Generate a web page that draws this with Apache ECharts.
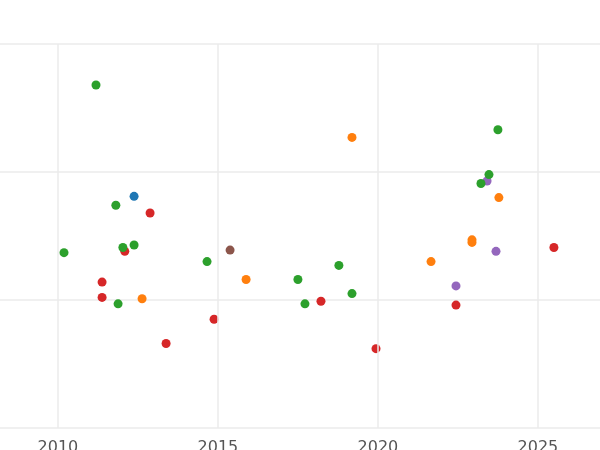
<!DOCTYPE html><html><head><meta charset="utf-8"><script src="https://cdn.jsdelivr.net/npm/echarts@6/dist/echarts.min.js"></script></head><body style="margin:0"><div id="c" style="width:600px;height:450px"></div><script>
const xTicks=[2010,2015,2020,2025];
const green=[[2011.19,1.68],[2010.19,0.37],[2011.81,0.74],[2012.03,0.41],[2012.38,0.43],[2011.88,-0.03],[2014.66,0.30],[2017.5,0.16],[2017.72,-0.03],[2018.78,0.27],[2019.19,0.05],[2023.22,0.91],[2023.47,0.98],[2023.75,1.33]];
const orange=[[2019.19,1.27],[2012.63,0.01],[2015.88,0.16],[2021.66,0.30],[2022.94,0.47],[2022.94,0.45],[2023.78,0.80]];
const red=[[2012.88,0.68],[2012.09,0.38],[2011.38,0.14],[2011.38,0.02],[2013.38,-0.34],[2014.88,-0.15],[2018.22,-0.01],[2019.94,-0.38],[2022.44,-0.04],[2025.5,0.41]];
const blue=[[2012.38,0.81]];
const purple=[[2023.41,0.93],[2022.44,0.11],[2023.69,0.38]];
const brown=[[2015.38,0.39]];
const mk=(d,c)=>({type:'scatter',data:d,symbolSize:9,itemStyle:{color:c,opacity:1}});
const s=[mk(green,'#2ca02c'),mk(orange,'#ff7f0e'),mk(red,'#d62728'),mk(blue,'#1f77b4'),mk(purple,'#9467bd'),mk(brown,'#8c564b')];
s[0].z=3;
s.unshift({type:'scatter',data:[],z:1,markLine:{silent:true,symbol:'none',label:{show:false},lineStyle:{color:'#ebebeb',width:1.5,type:'solid'},data:xTicks.map(v=>({xAxis:v}))}});
echarts.init(document.getElementById('c')).setOption({animation:false,
grid:{left:0,right:0,top:44,bottom:22,containLabel:false,outerBoundsMode:'none'},
xAxis:{type:'value',min:2008.19,max:2026.94,axisLine:{show:false},axisTick:{show:false},splitLine:{show:false},axisLabel:{customValues:xTicks,formatter:v=>String(v),color:'#555',fontSize:16,margin:12,fontFamily:'DejaVu Sans'}},
yAxis:{type:'value',min:-1,max:2,interval:1,axisLine:{show:false},axisTick:{show:false},axisLabel:{show:false},splitLine:{lineStyle:{color:'#ebebeb',width:1.5}}},
series:s});
</script></body></html>
